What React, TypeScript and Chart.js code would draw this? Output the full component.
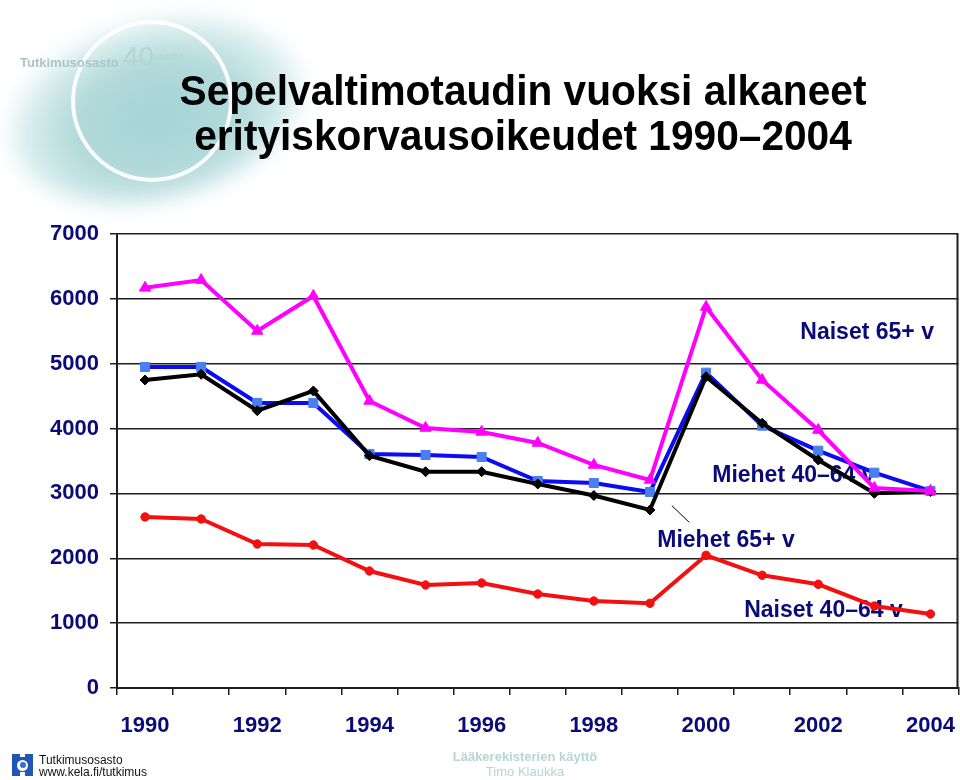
import React, { useEffect, useRef } from "react";
import { Chart, registerables } from "chart.js";

Chart.register(...registerables);

// ---- data ----
const years = ["1990", "1991", "1992", "1993", "1994", "1995", "1996", "1997", "1998", "1999", "2000", "2001", "2002", "2003", "2004"];
const naiset65 = [6170, 6290, 5505, 6045, 4426, 4009, 3948, 3778, 3439, 3207, 5875, 4749, 3978, 3084, 3038];
const miehet65 = [4749, 4837, 4276, 4580, 3582, 3335, 3335, 3146, 2968, 2745, 4800, 4082, 3516, 3002, 3030];
const miehet4064 = [4950, 4950, 4395, 4395, 3608, 3593, 3562, 3192, 3161, 3022, 4862, 4045, 3659, 3320, 3038];
const naiset4064 = [2637, 2606, 2220, 2205, 1804, 1588, 1619, 1449, 1341, 1306, 2046, 1738, 1599, 1264, 1141];
const yMin = 0;
const yMax = 7000;
const yStep = 1000;

// series labels drawn inside the plot (anchor in data space: category index, value)
const labelTexts = ["Naiset 65+ v", "Miehet 40–64 v", "Miehet 65+ v", "Naiset 40–64 v"];
const labelIdx = [11.68, 10.11, 9.13, 10.68];
const labelVal = [5386, 3178, 2176, 1096];
// leader line for "Miehet 65+ v"
const leaderIdx = [9.39, 9.7];
const leaderVal = [2811, 2555];

const NAVY = "#0a0a78";
const FONT = '"Liberation Sans", Arial, Helvetica, sans-serif';
const GRID = "#1e1e1e";
const CANVAS_W = 966;

const labelPlugin = {
  id: "seriesLabels",
  beforeDatasetsDraw(chart: any) {
    const { ctx, chartArea, scales } = chart;
    const x = scales.x;
    const y = scales.y;
    ctx.save();
    // right frame line
    ctx.strokeStyle = GRID;
    ctx.lineWidth = 2;
    ctx.beginPath();
    ctx.moveTo(chartArea.right - 1, chartArea.top);
    ctx.lineTo(chartArea.right - 1, chartArea.bottom);
    ctx.stroke();
    // labels
    ctx.font = `bold 23px ${FONT}`;
    ctx.fillStyle = NAVY;
    ctx.textAlign = "left";
    ctx.textBaseline = "alphabetic";
    labelTexts.forEach((t, i) => {
      ctx.fillText(t, x.getPixelForValue(labelIdx[i]), y.getPixelForValue(labelVal[i]));
    });
    // leader line
    ctx.strokeStyle = "#000";
    ctx.lineWidth = 1;
    ctx.beginPath();
    ctx.moveTo(x.getPixelForValue(leaderIdx[0]), y.getPixelForValue(leaderVal[0]));
    ctx.lineTo(x.getPixelForValue(leaderIdx[1]), y.getPixelForValue(leaderVal[1]));
    ctx.stroke();
    ctx.restore();
  },
};

function ChartCanvas() {
  const ref = useRef<HTMLCanvasElement | null>(null);
  useEffect(() => {
    if (!ref.current) return;
    const tickFont = { family: FONT, size: 22, weight: "bold" as const };
    const chart = new Chart(ref.current, {
      type: "line",
      data: {
        labels: years,
        datasets: [
          {
            label: labelTexts[0],
            data: naiset65,
            borderColor: "#ff00ff",
            backgroundColor: "#ff00ff",
            borderWidth: 4,
            pointStyle: "triangle",
            pointRadius: 6.5,
            pointBackgroundColor: "#ff00ff",
            pointBorderColor: "#ff00ff",
            pointBorderWidth: 1,
            tension: 0,
          },
          {
            label: labelTexts[2],
            data: miehet65,
            borderColor: "#000000",
            backgroundColor: "#000000",
            borderWidth: 4,
            pointStyle: "rectRot",
            pointRadius: 5,
            pointBackgroundColor: "#000000",
            pointBorderColor: "#000000",
            pointBorderWidth: 1,
            tension: 0,
          },
          {
            label: labelTexts[1],
            data: miehet4064,
            borderColor: "#0c0cf0",
            backgroundColor: "#4a7ff0",
            borderWidth: 4,
            pointStyle: "rect",
            pointRadius: 6.4,
            pointBackgroundColor: "#4a7ff0",
            pointBorderColor: "#4a7ff0",
            pointBorderWidth: 1,
            tension: 0,
          },
          {
            label: labelTexts[3],
            data: naiset4064,
            borderColor: "#f21010",
            backgroundColor: "#f21010",
            borderWidth: 4,
            pointStyle: "circle",
            pointRadius: 4.2,
            pointBackgroundColor: "#f21010",
            pointBorderColor: "#f21010",
            pointBorderWidth: 1,
            tension: 0,
          },
        ],
      },
      options: {
        responsive: false,
        animation: false,
        devicePixelRatio: 1,
        layout: { padding: { left: 0, right: 2, top: 234, bottom: 0 } },
        plugins: {
          legend: { display: false },
          tooltip: { enabled: false },
          title: { display: false },
        },
        scales: {
          x: {
            type: "category",
            offset: true,
            grid: { offset: true, drawOnChartArea: false, drawTicks: true, tickLength: 7, color: GRID, lineWidth: 1.5 },
            border: { display: true, color: GRID, width: 2 },
            ticks: {
              autoSkip: false,
              maxRotation: 0,
              minRotation: 0,
              padding: 0,
              color: NAVY,
              font: { ...tickFont, lineHeight: "62px" },
              callback: (_v: any, i: number) => (i % 2 === 0 ? years[i] : ""),
            },
            afterFit: (s: any) => {
              s.height = 92;
              s.paddingLeft = 0;
              s.paddingRight = 0;
            },
          },
          y: {
            min: yMin,
            max: yMax,
            ticks: {
              stepSize: yStep,
              padding: 11,
              color: NAVY,
              font: tickFont,
              callback: (v: any) => String(v),
            },
            grid: { color: GRID, lineWidth: 1.5, tickLength: 7 },
            border: { display: true, color: GRID, width: 2 },
            afterFit: (s: any) => {
              s.width = 117;
            },
          },
        },
      },
      plugins: [labelPlugin],
    } as any);
    return () => chart.destroy();
  }, []);
  return (
    <canvas
      ref={ref}
      width={CANVAS_W}
      height={780}
      style={{ position: "absolute", left: 0, top: 0, width: CANVAS_W, height: 780, zIndex: 2 }}
    />
  );
}

export default function App() {
  const abs = (o: React.CSSProperties): React.CSSProperties => ({ position: "absolute", whiteSpace: "nowrap", ...o });
  return (
    <div style={{ position: "absolute", left: 0, top: 0, width: 960, height: 780, overflow: "hidden", background: "#ffffff", fontFamily: FONT }}>
      {/* decorative teal blob and ring */}
      <div
        style={abs({
          left: 5,
          top: 20,
          width: 300,
          height: 180,
          borderRadius: "50%",
          transform: "rotate(-14deg)",
          background:
            "radial-gradient(ellipse at 50% 55%, rgba(160,209,210,0.95) 0%, rgba(165,211,212,0.85) 40%, rgba(185,222,223,0.55) 62%, rgba(255,255,255,0) 80%)",
          filter: "blur(10px)",
          zIndex: 0,
        })}
      />
      <div
        style={abs({
          left: 70.5,
          top: 20,
          width: 162,
          height: 162,
          boxSizing: "border-box",
          borderRadius: "50%",
          border: "4px solid rgba(255,255,255,0.92)",
          zIndex: 1,
        })}
      />
      {/* top-left logo text */}
      <div style={abs({ left: 20, top: 55.7, fontSize: 13, lineHeight: "13px", fontWeight: "bold", color: "#a9c6c8", zIndex: 3 })}>Tutkimusosasto</div>
      <div style={abs({ left: 123, top: 43, fontSize: 28, lineHeight: "28px", color: "#b7d3d5", zIndex: 3 })}>40</div>
      <div style={abs({ left: 154, top: 50.7, fontSize: 11, lineHeight: "11px", color: "#b7d3d5", zIndex: 3 })}>vuotta</div>

      {/* title */}
      <div
        style={abs({
          left: 0,
          top: 68,
          width: 1046,
          textAlign: "center",
          fontSize: 42,
          lineHeight: "45px",
          fontWeight: "bold",
          color: "#000",
          transform: "scaleX(0.968)",
          transformOrigin: "50% 50%",
          zIndex: 3,
        })}
      >
        Sepelvaltimotaudin vuoksi alkaneet
        <br />
        erityiskorvausoikeudet 1990–2004
      </div>

      <ChartCanvas />

      {/* bottom-left Kela logo */}
      <div style={abs({ left: 12, top: 754, width: 21, height: 22, background: "#1f56b8", zIndex: 3 })}>
        <div style={abs({ left: 5, top: 5.5, width: 11, height: 11, borderRadius: "50%", background: "#ffffff" })} />
        <div style={abs({ left: 7.5, top: 8, width: 6, height: 6, borderRadius: "50%", background: "#3b6fcf" })} />
        <div style={abs({ left: 8, top: 0, width: 5, height: 3, background: "#ffffff" })} />
        <div style={abs({ left: 8, top: 18, width: 5, height: 4, background: "#ffffff" })} />
      </div>
      <div style={abs({ left: 39, top: 753.8, fontSize: 12, lineHeight: "12px", color: "#111", zIndex: 3 })}>Tutkimusosasto</div>
      <div style={abs({ left: 39, top: 765.8, fontSize: 12, lineHeight: "12px", color: "#111", zIndex: 3 })}>www.kela.fi/tutkimus</div>

      {/* bottom-middle footer */}
      <div style={abs({ left: 325, width: 400, textAlign: "center", top: 749.7, fontSize: 13, lineHeight: "13px", fontWeight: "bold", color: "#b5d5d6", zIndex: 3 })}>
        Lääkerekisterien käyttö
      </div>
      <div style={abs({ left: 325, width: 400, textAlign: "center", top: 764.7, fontSize: 13, lineHeight: "13px", color: "#b5d5d6", zIndex: 3 })}>
        Timo Klaukka
      </div>
    </div>
  );
}
